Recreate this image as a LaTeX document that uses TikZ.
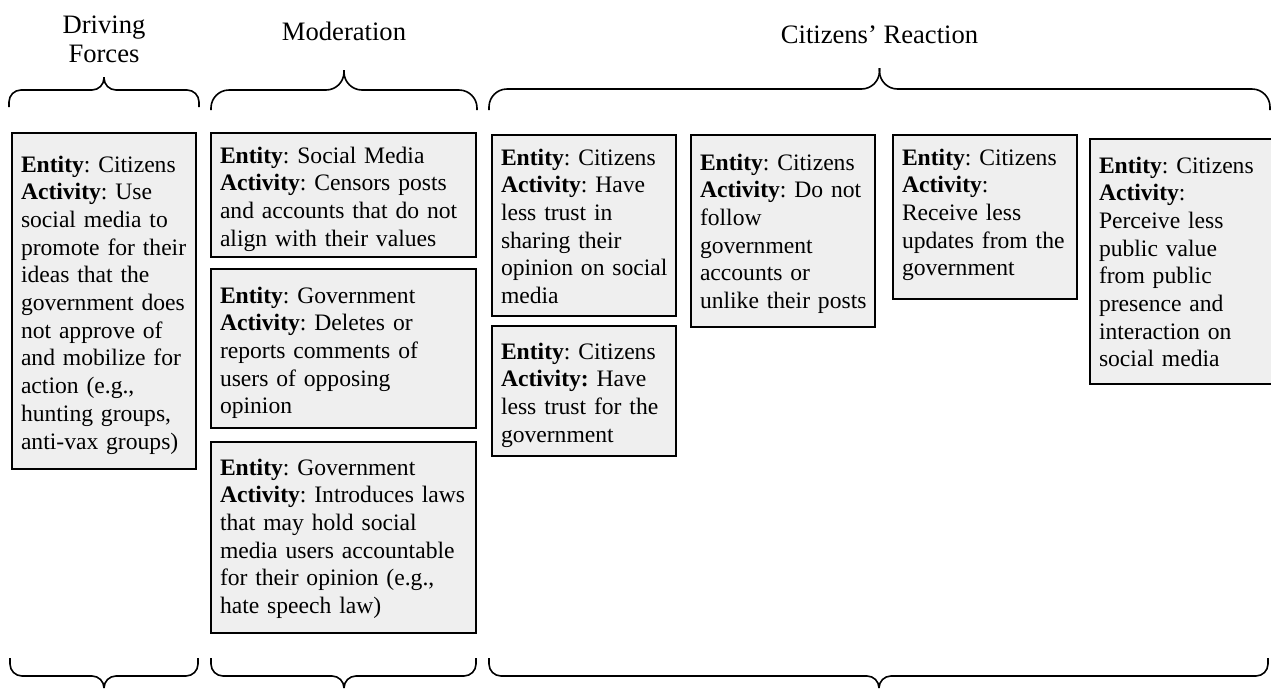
\documentclass[tikz,border=0pt]{standalone}
\usepackage{fontspec}
\setmainfont{Liberation Serif}
\usetikzlibrary{positioning}
\definecolor{boxgrey}{HTML}{EFEFEF}
\hyphenpenalty=10000
\frenchspacing

\begin{document}
\begin{tikzpicture}[
  x=0.5pt, y=-0.5pt,
  hdr/.style={font=\fontsize{13.3}{14.5}\selectfont, align=center, anchor=base},
  card/.style={draw=black, line width=1pt, fill=boxgrey, anchor=north west,
               outer sep=0pt, inner xsep=4.5pt, inner ysep=0pt, align=left,
               text width=83pt, font=\fontsize{11.8}{13.85}\selectfont},
  wide/.style={text width=123.5pt},
  brc/.style={line width=0.8pt, rounded corners=#1},
  brc/.default=9pt,
]
\useasboundingbox (0,0) rectangle (1271,697);

%% ---- Column headings ----
\node[hdr] (hdrdrv) at (104,62)   {Driving\\Forces};
\node[hdr] (hdrmod) at (344,40)   {Moderation};
\node[hdr] (hdrcit) at (879.5,43) {Citizens’ Reaction};

%% ---- Braces above the columns ----
\draw[brc=6pt] (9,107)    -- (9,90)    -- (104,90)   -- (104,77);
\draw[brc=6pt] (199,107)  -- (199,90)  -- (104,90)   -- (104,77);
\draw[brc]     (211,110)  -- (211,90)  -- (344,90)   -- (344,70);
\draw[brc]     (477,110)  -- (477,90)  -- (344,90)   -- (344,70);
\draw[brc]     (489,110)  -- (489,89)  -- (879.5,89) -- (879.5,68);
\draw[brc]     (1270,110) -- (1270,89) -- (879.5,89) -- (879.5,68);

%% ---- Driving forces ----
\node[card, text height=19.5pt, text depth=148.5pt] at (12,133) (drv)
  {\textbf{Entity}: Citizens\\\textbf{Activity}: Use\\social media to\\
   promote~for~their\\ideas that the\\government~does\\not approve of\\
   and~mobilize~for\\action (e.g.,\\hunting groups,\\anti-vax~groups)};

%% ---- Moderation ----
\node[card, wide, text height=15pt, text depth=47pt] at (211,133) (mod1)
  {\textbf{Entity}: Social Media\\\textbf{Activity}: Censors posts\\
   and~accounts~that~do~not\\align with their values};
\node[card, wide, text height=17pt, text depth=62.5pt, below=6pt of mod1] (mod2)
  {\textbf{Entity}: Government\\\textbf{Activity}: Deletes or\\
   reports comments of\\users of opposing\\opinion};
\node[card, wide, text height=16.5pt, text depth=79pt, below=7pt of mod2] (mod3)
  {\textbf{Entity}: Government\\\textbf{Activity}:~Introduces~laws\\
   that may hold social\\media~users~accountable\\for their opinion (e.g.,\\
   hate speech law)};

%% ---- Citizens' reaction ----
\node[card, text height=15pt, text depth=75.5pt] at (492,135) (cit1)
  {\textbf{Entity}: Citizens\\\textbf{Activity}: Have\\less trust in\\
   sharing their\\opinion~on~social\\media};
\node[card, text height=16.5pt, text depth=48.5pt, below=5pt of cit1] (cit1b)
  {\textbf{Entity}: Citizens\\\textbf{Activity:} Have\\less~trust~for~the\\
   government};
\node[card, text height=17.5pt, text depth=78.5pt] at (691,135) (cit2)
  {\textbf{Entity}: Citizens\\\textbf{Activity}:~Do~not\\follow\\government\\
   accounts or\\unlike~their~posts};
\node[card, text height=15pt, text depth=67pt] at (893,135) (cit3)
  {\textbf{Entity}: Citizens\\\textbf{Activity}:\\Receive less\\
   updates~from~the\\government};
\node[card, text height=17pt, text depth=105.5pt] at (1090,139) (cit4)
  {\textbf{Entity}: Citizens\\\textbf{Activity}:\\Perceive less\\
   public value\\from public\\presence and\\interaction on\\social media};

%% ---- Braces below the columns ----
\draw[brc=6pt] (10,658)   -- (10,676)   -- (104,676) -- (104,688);
\draw[brc=6pt] (198,658)  -- (198,676)  -- (104,676) -- (104,688);
\draw[brc=6pt] (211,658)  -- (211,676)  -- (344,676) -- (344,688);
\draw[brc=6pt] (476,658)  -- (476,676)  -- (344,676) -- (344,688);
\draw[brc=6pt] (489,658)  -- (489,676)  -- (879,676) -- (879,688);
\draw[brc=6pt] (1268,658) -- (1268,676) -- (879,676) -- (879,688);

\end{tikzpicture}
\end{document}
